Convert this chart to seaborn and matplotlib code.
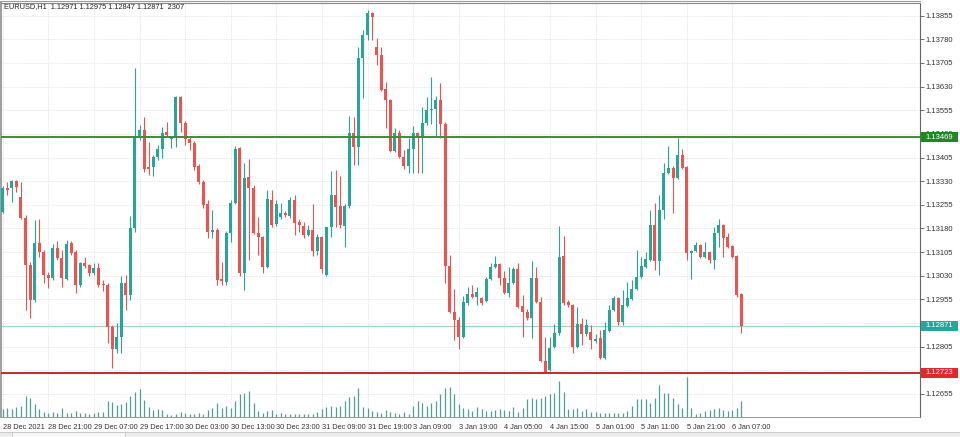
import numpy as np
import pandas as pd
import seaborn as sns
import matplotlib
matplotlib.use("Agg")
import matplotlib.pyplot as plt
import matplotlib.transforms as mtransforms
from matplotlib.lines import Line2D
from matplotlib.patches import Rectangle

# ---------------- data ----------------
header_text = "EURUSD,H1  1.12971 1.12975 1.12847 1.12871  2307"

x_tick_labels = ["28 Dec 2021", "28 Dec 21:00", "29 Dec 07:00", "29 Dec 17:00",
                 "30 Dec 03:00", "30 Dec 13:00", "30 Dec 23:00", "31 Dec 09:00",
                 "31 Dec 19:00", "3 Jan 09:00", "3 Jan 19:00", "4 Jan 05:00",
                 "4 Jan 15:00", "5 Jan 01:00", "5 Jan 11:00", "5 Jan 21:00",
                 "6 Jan 07:00"]

y_tick_values = [1.12655, 1.12730, 1.12805, 1.12880, 1.12955, 1.13030, 1.13105,
                 1.13180, 1.13255, 1.13330, 1.13405, 1.13480, 1.13555, 1.13630,
                 1.13705, 1.13780, 1.13855]

# prices in points (1 point = 0.00001)
open_pts = [113232, 113308, 113308, 113330, 113279, 113213, 113064, 112953, 113134, 113105,
            113032, 113023, 113118, 113086, 113020, 113134, 113105, 113001, 113070, 113064,
            113039, 113054, 113004, 113001, 112867, 112798, 112836, 113007, 112969, 113181,
            113470, 113492, 113375, 113375, 113406, 113432, 113486, 113463, 113470, 113596,
            113514, 113463, 113451, 113378, 113327, 113257, 113169, 113175, 113020, 113010,
            113165, 113260, 113435, 113039, 113343, 113308, 113165, 113153, 113058, 113270,
            113194, 113216, 113229, 113219, 113270, 113200, 113188, 113159, 113175, 113108,
            113153, 113032, 113184, 113286, 113251, 113188, 113251, 113482, 113438, 113720,
            113793, 113863, 113755, 113730, 113622, 113587, 113425, 113482, 113406, 113378,
            113432, 113482, 113470, 113514, 113555, 113558, 113587, 113511, 113061, 112915,
            112890, 112836, 112944, 112972, 112963, 112959, 112950, 113020, 113058, 113067,
            113023, 112975, 113007, 113051, 112934, 112915, 112896, 113023, 112947, 112760,
            112731, 112804, 112848, 113092, 112947, 112937, 112804, 112877, 112845, 112852,
            112823, 112833, 112769, 112855, 112921, 112959, 112883, 112934, 112956, 112988,
            113026, 113058, 113080, 113191, 113077, 113238, 113356, 113371, 113340, 113413,
            113375, 113102, 113108, 113127, 113089, 113105, 113080, 113165, 113191, 113153,
            113124, 113092, 112971]

high_pts = [113314, 113327, 113333, 113333, 113327, 113222, 113073, 113207, 113210, 113112,
            113042, 113131, 113140, 113112, 113143, 113140, 113112, 113073, 113089, 113067,
            113070, 113070, 113016, 113007, 112874, 112880, 113029, 113032, 113219, 113688,
            113508, 113533, 113454, 113413, 113444, 113501, 113517, 113473, 113600, 113600,
            113520, 113470, 113457, 113384, 113333, 113270, 113238, 113181, 113073, 113172,
            113270, 113441, 113438, 113387, 113400, 113318, 113216, 113156, 113302, 113302,
            113270, 113260, 113235, 113279, 113286, 113210, 113200, 113191, 113257, 113162,
            113156, 113184, 113362, 113365, 113346, 113257, 113536, 113533, 113755, 113809,
            113872, 113866, 113783, 113755, 113644, 113590, 113498, 113492, 113429, 113467,
            113505, 113486, 113565, 113596, 113660, 113600, 113641, 113517, 113096, 112988,
            112899, 112966, 112994, 113001, 112994, 112963, 113026, 113070, 113092, 113070,
            113045, 113058, 113058, 113070, 112969, 112924, 113077, 113058, 112963, 112836,
            112836, 112877, 113188, 113156, 112953, 112940, 112931, 112896, 112893, 112874,
            112845, 112858, 112883, 112937, 112966, 112963, 112985, 113010, 113016, 113112,
            113089, 113105, 113238, 113260, 113286, 113387, 113441, 113378, 113467, 113432,
            113378, 113112, 113137, 113131, 113137, 113108, 113184, 113210, 113194, 113165,
            113127, 113096, 112975]

low_pts = [113229, 113286, 113264, 113295, 113210, 112921, 112896, 112947, 113089, 113007,
           112991, 113016, 113080, 112994, 113016, 113096, 112975, 112994, 113054, 113029,
           113032, 112994, 112982, 112817, 112737, 112785, 112785, 112921, 112953, 113169,
           113460, 113359, 113349, 113346, 113397, 113403, 113470, 113435, 113438, 113486,
           113444, 113429, 113365, 113321, 113245, 113150, 113150, 113001, 113001, 113001,
           113137, 113257, 113029, 112985, 113080, 113162, 113096, 113039, 113054, 113184,
           113188, 113210, 113216, 113213, 113159, 113169, 113150, 113156, 113092, 113096,
           113039, 113029, 113153, 113184, 113181, 113121, 113245, 113381, 113381, 113593,
           113777, 113777, 113698, 113615, 113498, 113422, 113422, 113403, 113368, 113356,
           113356, 113356, 113356, 113508, 113511, 113470, 113467, 113007, 112912, 112826,
           112798, 112833, 112937, 112959, 112937, 112937, 112947, 113016, 113054, 113001,
           112972, 112963, 113004, 112928, 112836, 112890, 112833, 112944, 112756, 112722,
           112728, 112801, 112842, 112937, 112931, 112785, 112801, 112810, 112839, 112798,
           112817, 112766, 112766, 112852, 112918, 112874, 112874, 112931, 112953, 112985,
           113023, 113054, 113077, 113048, 113032, 113210, 113352, 113229, 113337, 113368,
           113080, 113020, 113105, 113086, 113086, 113070, 113051, 113121, 113089, 113118,
           113086, 112963, 112847]

close_pts = [113308, 113302, 113330, 113311, 113213, 113064, 112953, 113134, 113105, 113032,
             113023, 113118, 113086, 113023, 113131, 113102, 113001, 113070, 113061, 113039,
             113054, 113001, 113001, 112867, 112798, 112836, 113007, 112969, 113181, 113470,
             113492, 113368, 113368, 113406, 113432, 113482, 113476, 113470, 113596, 113514,
             113463, 113451, 113375, 113327, 113254, 113169, 113175, 113016, 113013, 113165,
             113260, 113432, 113039, 113340, 113308, 113165, 113153, 113058, 113273, 113191,
             113257, 113229, 113222, 113270, 113197, 113191, 113159, 113175, 113108, 113153,
             113051, 113184, 113286, 113248, 113191, 113251, 113482, 113438, 113720, 113793,
             113863, 113850, 113730, 113619, 113587, 113425, 113482, 113406, 113378, 113432,
             113482, 113470, 113514, 113555, 113558, 113587, 113511, 113061, 112915, 112890,
             112836, 112947, 112972, 112963, 112978, 112944, 113020, 113058, 113067, 113023,
             112975, 113007, 113051, 112931, 112915, 112896, 113023, 112947, 112760, 112725,
             112801, 112848, 113089, 112944, 112937, 112804, 112877, 112845, 112874, 112826,
             112829, 112769, 112858, 112921, 112959, 112883, 112937, 112959, 112988, 113026,
             113061, 113083, 113191, 113077, 113238, 113356, 113371, 113340, 113413, 113371,
             113102, 113108, 113127, 113089, 113105, 113080, 113165, 113191, 113150, 113121,
             113089, 112969, 112871]

tick_volume = [1150, 1340, 1110, 1440, 1580, 3020, 2740, 1870, 1150, 720,
               580, 720, 580, 1300, 580, 580, 860, 580, 580, 430,
               580, 720, 720, 2300, 2160, 1730, 1870, 2160, 3020, 3600,
               4030, 2450, 1440, 1010, 1110, 1010, 430, 290, 480, 760,
               620, 480, 480, 620, 480, 960, 1340, 2060, 1340, 1580,
               1340, 2300, 3360, 3500, 3740, 2060, 820, 620, 820, 960,
               480, 620, 390, 390, 480, 480, 430, 480, 430, 760,
               1110, 1440, 1580, 1440, 1580, 2300, 2880, 3020, 4220, 1440,
               1300, 860, 760, 620, 960, 760, 620, 480, 760, 480,
               1580, 2300, 2060, 1580, 2060, 2300, 3310, 4220, 4320, 3270,
               1830, 1340, 1110, 860, 1440, 1110, 860, 860, 960, 1110,
               960, 860, 1440, 760, 1340, 2550, 2780, 2550, 2780, 3020,
               3270, 3500, 5180, 3600, 1200, 1110, 1340, 860, 1110, 790,
               720, 580, 580, 580, 580, 580, 580, 860, 1580, 2550,
               2550, 2550, 2060, 2690, 4610, 3500, 3500, 2690, 1830, 1250,
               5760, 1340, 480, 620, 860, 960, 1110, 1250, 960, 860,
               960, 1250, 2307]

level_green = 1.13469
level_red = 1.12723
last_price = 1.12871

# ---------------- build frame ----------------
df = pd.DataFrame({
    "bar": np.arange(len(open_pts)),
    "open": np.array(open_pts) / 1e5,
    "high": np.array(high_pts) / 1e5,
    "low": np.array(low_pts) / 1e5,
    "close": np.array(close_pts) / 1e5,
    "volume": tick_volume,
})
BULL = "#26a69a"
BEAR = "#ef5350"
df["color"] = np.where(df["close"] >= df["open"], BULL, BEAR)

sns.set_theme(style="white")
plt.rcParams["font.family"] = ["Liberation Sans", "DejaVu Sans"]

W, H = 960, 437
fig = plt.figure(figsize=(W / 100, H / 100), dpi=100)
fig.patch.set_facecolor("white")
ax_l, ax_r, ax_t, ax_b = 1, 920, 3, 417
ax = fig.add_axes([ax_l / W, 1 - ax_b / H, (ax_r - ax_l) / W, (ax_b - ax_t) / H])
axv = ax.twinx()
ax.set_zorder(axv.get_zorder() + 1)
ax.patch.set_visible(False)

spacing = 4.56
x0 = 2.7
ax.set_xlim((ax_l - x0) / spacing, (ax_r - x0) / spacing)
ax.set_ylim(1.12582, 1.13895)
px_price = (1.13895 - 1.12582) / (ax_b - ax_t)

# volume axis (bottom layer) with the grid underneath the volumes
axv.set_ylim(0, (ax_b - ax_t) * 144)
axv.set_yticks([])
for s in axv.spines.values():
    s.set_visible(False)
grid_trans = mtransforms.blended_transform_factory(axv.transAxes, ax.transData)
for v in y_tick_values:
    axv.add_line(Line2D([0, 1], [v, v], transform=grid_trans, color="#e2e2e2",
                        lw=0.6, ls=(0, (1.5, 1.5)), zorder=0))
for b in range(0, 170, 10):
    axv.axvline(b, color="#e2e2e2", lw=0.6, ls=(0, (1.5, 1.5)), zorder=0)
axv.vlines(df["bar"], 0, df["volume"], color="#4f9f96", linewidth=0.9, zorder=2)

# candles
ax.vlines(df["bar"], df["low"], df["high"], colors=df["color"], linewidth=0.8, zorder=3)
body_lo = np.minimum(df["open"], df["close"])
body_h = np.maximum((df["close"] - df["open"]).abs(), 0.000035)
ax.bar(df["bar"], body_h, bottom=body_lo, width=0.66, color=df["color"],
       linewidth=0, zorder=4)

# horizontal levels
ax.axhline(level_green, color="#3d8c3d", lw=1.4, zorder=5)
ax.axhline(level_red, color="#c62828", lw=1.4, zorder=5)
ax.axhline(last_price, color="#9fd4d0", lw=0.9, zorder=2)

# axes styling
ax.yaxis.tick_right()
ax.set_yticks(y_tick_values)
ax.set_yticklabels([f"{v:.5f}" for v in y_tick_values])
ax.tick_params(axis="y", direction="out", length=3, width=0.6, colors="#555",
               labelsize=5.5, pad=1.2, labelcolor="#333")
ax.set_xticks(list(range(0, 170, 10)))
ax.set_xticklabels(x_tick_labels)
for lab in ax.get_xticklabels():
    lab.set_horizontalalignment("left")
ax.tick_params(axis="x", direction="out", length=3, width=0.6, colors="#555",
               labelsize=5.3, pad=2, labelcolor="#333")
ax.spines["right"].set_color("#666")
ax.spines["right"].set_linewidth(0.8)
ax.spines["left"].set_color("#a0a0a0")
ax.spines["left"].set_linewidth(1.5)
ax.spines["top"].set_color("#888")
ax.spines["top"].set_linewidth(0.8)
ax.spines["bottom"].set_color("#888")
ax.spines["bottom"].set_linewidth(0.6)

# price labels on the right axis (box drawn over the regular tick label)
trans = mtransforms.blended_transform_factory(ax.transAxes, ax.transData)
box_w = 37 / (ax_r - ax_l)
box_h = 10 * px_price
for val, col in [(level_green, "#1e8a1e"), (last_price, "#26a69a"), (level_red, "#e0282d")]:
    ax.add_patch(Rectangle((1.0008, val - box_h / 2), box_w, box_h, transform=trans,
                           facecolor=col, edgecolor="none", clip_on=False, zorder=9))
    ax.text(1.0008 + box_w / 2, val, f"{val:.5f}", transform=trans, ha="center",
            va="center", fontsize=5.5, color="white", zorder=10, clip_on=False)

# top double border
fig.add_artist(Line2D([0, ax_r / W], [1 - 1 / H, 1 - 1 / H], color="#9a9a9a", lw=0.8))

# header
fig.text(4 / W, 1 - 7 / H, header_text, fontsize=5.3, color="#222", ha="left", va="center")

# bottom tab strip
fig.add_artist(Rectangle((0, 0), 1, 5.5 / H, transform=fig.transFigure,
                         facecolor="#ececec", edgecolor="none"))
fig.add_artist(Line2D([0, 1], [5.5 / H, 5.5 / H], color="#c8c8c8", lw=0.6))
fig.add_artist(Rectangle((12 / W, 0), 113 / W, 5.5 / H, transform=fig.transFigure,
                         facecolor="#f8f8f8", edgecolor="#c8c8c8", lw=0.6))

fig.savefig("out.png", dpi=100)
